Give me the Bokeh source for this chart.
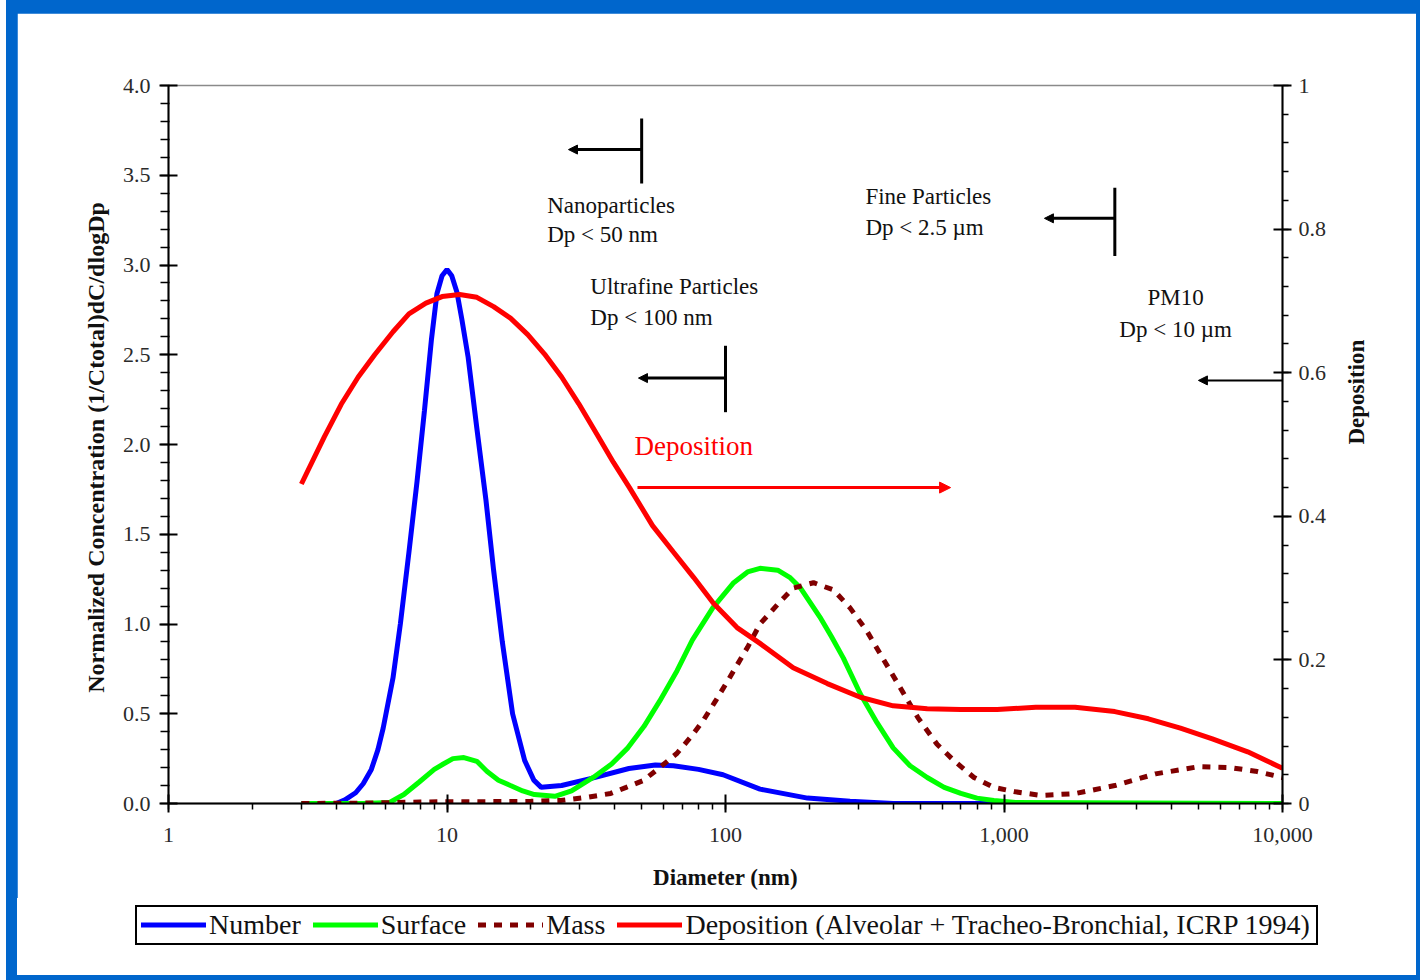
import math
from bokeh.plotting import figure
from bokeh.layouts import column
from bokeh.models import (Range1d, LinearAxis, SingleIntervalTicker, LogTicker, CustomJSTickFormatter,
                          Arrow, NormalHead, Div)
from bokeh.core.properties import value
from bokeh.embed import file_html
from bokeh.resources import INLINE

# ---------------- data ----------------
d_num = [3, 4, 4.3, 4.7, 5.0, 5.35, 5.65, 5.9, 6.4, 6.8, 7.3, 7.8, 8.3, 8.8, 9.2, 9.6, 10, 10.4, 10.85, 11.3,
         11.9, 12.8, 13.8, 14.7, 15.8, 17.2, 19.0, 20.5, 21.8, 25.8, 33, 45, 56, 65, 80, 98, 133, 197, 280, 400,
         10000]
number = [0, 0, 0.02, 0.06, 0.11, 0.19, 0.30, 0.42, 0.70, 1.0, 1.40, 1.79, 2.19, 2.59, 2.84, 2.94, 2.975, 2.94,
          2.85, 2.70, 2.49, 2.09, 1.69, 1.30, 0.90, 0.50, 0.24, 0.13, 0.09, 0.10, 0.14, 0.195, 0.215, 0.21, 0.19,
          0.16, 0.08, 0.03, 0.012, 0, 0]

d_surf = [3, 5, 6.2, 7.0, 7.95, 9.0, 9.7, 10.5, 11.5, 12.8, 13.9, 15.3, 16.9, 18.7, 20.6, 24.4, 28, 33.5, 39,
          44.6, 51, 58, 67, 76, 90, 107, 120, 133, 154, 170, 186, 218, 240, 265, 305, 350, 400, 460, 530, 610,
          700, 800, 920, 1100, 10000]
surface = [0, 0, 0.005, 0.05, 0.12, 0.19, 0.22, 0.25, 0.256, 0.235, 0.18, 0.13, 0.10, 0.07, 0.05, 0.04, 0.07,
           0.145, 0.22, 0.31, 0.43, 0.57, 0.74, 0.91, 1.09, 1.23, 1.29, 1.31, 1.30, 1.26, 1.20, 1.04, 0.93, 0.81,
           0.61, 0.45, 0.31, 0.21, 0.145, 0.09, 0.056, 0.03, 0.017, 0.005, 0]

d_mass = [3, 5, 8, 10, 13, 20, 25.6, 32, 38.7, 44, 50.7, 58, 67, 75, 83, 92, 102, 120, 133, 154, 175, 207, 244,
          280, 322, 370, 415, 490, 575, 660, 780, 920, 1100, 1360, 1800, 2500, 3500, 5000, 6500, 8000, 10000]
mass = [0, 0.002, 0.008, 0.01, 0.01, 0.012, 0.017, 0.035, 0.056, 0.09, 0.128, 0.2, 0.28, 0.37, 0.46, 0.57, 0.685,
        0.87, 1.0, 1.11, 1.20, 1.23, 1.19, 1.09, 0.96, 0.80, 0.67, 0.48, 0.33, 0.24, 0.145, 0.09, 0.065, 0.045,
        0.055, 0.10, 0.165, 0.205, 0.20, 0.18, 0.145]

d_dep = [3.0, 3.63, 4.17, 4.8, 5.5, 6.4, 7.3, 8.4, 9.6, 11.1, 12.8, 14.7, 16.9, 19.5, 22.4, 25.8, 29.7, 34.7,
         39.6, 45.2, 54.7, 65.1, 76.8, 90.5, 110, 133, 175, 232, 305, 400, 530, 700, 945, 1300, 1800, 2500, 3300,
         4300, 5600, 7500, 10000]
deposition = [0.445, 0.511, 0.556, 0.594, 0.625, 0.657, 0.682, 0.697, 0.706, 0.709, 0.705, 0.692, 0.676, 0.653,
              0.626, 0.594, 0.557, 0.513, 0.475, 0.44, 0.387, 0.35, 0.315, 0.279, 0.245, 0.223, 0.189, 0.167,
              0.148, 0.136, 0.132, 0.131, 0.131, 0.134, 0.134, 0.128, 0.118, 0.105, 0.09, 0.072, 0.049]

legend_labels = ["Number", "Surface", "Mass", "Deposition (Alveolar + Tracheo-Bronchial, ICRP 1994)"]

SERIF = "Liberation Serif"
COLORS = ["#0000FF", "#00FF00", "#800000", "#FF0000"]
DASHES = ["solid", "solid", "8 8", "solid"]

p = figure(frame_width=1114, frame_height=718, x_axis_type="log", x_range=Range1d(1, 10000),
           y_range=Range1d(0, 4), output_backend="svg", toolbar_location=None,
           min_border_left=151, min_border_right=134, min_border_top=72, min_border_bottom=95,
           margin=(13, 4, 0, 17))
p.extra_y_ranges = {"dep": Range1d(0, 1)}
p.grid.visible = False
p.background_fill_color = "white"
p.border_fill_color = "white"
p.outline_line_color = "#8a8a8a"
p.outline_line_width = 1.5

# x axis
xa = p.xaxis[0]
xa.ticker = LogTicker(num_minor_ticks=10)
xa.formatter = CustomJSTickFormatter(code="return Math.round(tick).toLocaleString('en-US');")
xa.axis_label = "Diameter (nm)"

# left axis
ya = p.yaxis[0]
ya.ticker = SingleIntervalTicker(interval=0.5, num_minor_ticks=5)
ya.formatter = CustomJSTickFormatter(code="return tick.toFixed(1);")
ya.axis_label = "Normalized Concentration  (1/Ctotal)dC/dlogDp"

# right axis
ra = LinearAxis(y_range_name="dep", axis_label="Deposition",
                ticker=SingleIntervalTicker(interval=0.2, num_minor_ticks=5),
                formatter=CustomJSTickFormatter(code="return String(Math.round(tick*10)/10);"))
p.add_layout(ra, "right")
try:
    ra.axis_label_orientation = math.pi / 2
except Exception:
    pass

for ax in (xa, ya, ra):
    ax.axis_line_color = "black"
    ax.axis_line_width = 2
    ax.major_tick_line_color = "black"
    ax.major_tick_line_width = 2
    ax.minor_tick_line_color = "black"
    ax.minor_tick_line_width = 1.5
    ax.major_tick_in = 9
    ax.major_tick_out = 9
    ax.minor_tick_in = 0
    ax.minor_tick_out = 6
    ax.major_label_text_font = SERIF
    ax.major_label_text_font_size = "22px"
    ax.major_label_text_color = "#2a2a2a"
    ax.axis_label_text_font = SERIF
    ax.axis_label_text_font_style = "bold"
    ax.axis_label_text_font_size = "23px"
    ax.axis_label_text_color = "#111111"
ya.minor_tick_out = 8
ya.minor_tick_in = 1
ya.axis_label_text_font_size = "24px"
xa.major_label_standoff = 15
xa.axis_label_standoff = 20
ya.major_label_standoff = 9
ya.axis_label_standoff = 11
ra.major_label_standoff = 7
ra.axis_label_standoff = 27

# curves
series = [(d_num, number), (d_surf, surface), (d_mass, mass), (d_dep, deposition)]
for i, (xs, ys) in enumerate(series):
    kw = dict(line_color=COLORS[i], line_width=5, line_dash=DASHES[i])
    if i == 3:
        kw["y_range_name"] = "dep"
    p.line(xs, ys, **kw)

# size-class markers (bars + arrows)
bar_x = [50, 100, 2500]
bar_y0 = [3.454, 2.18, 3.05]
bar_y1 = [3.816, 2.55, 3.43]
p.segment(x0=bar_x, y0=bar_y0, x1=bar_x, y1=bar_y1, line_color="black", line_width=3)

arrows = [(50, 27.3, 3.643, 3), (100, 48.7, 2.37, 3), (2500, 1397, 3.26, 3), (10000, 4990, 2.357, 2)]
for xs, xe, yy, lw in arrows:
    p.add_layout(Arrow(end=NormalHead(size=9, fill_color="black", line_color="black"),
                       x_start=xs, y_start=yy, x_end=xe, y_end=yy, line_color="black", line_width=lw))
p.add_layout(Arrow(end=NormalHead(size=11, fill_color="#FF0000", line_color="#FF0000"),
                   x_start=48.3, y_start=1.76, x_end=643, y_end=1.76, line_color="#FF0000", line_width=3))

# texts
left_txt = ["Nanoparticles", "Dp < 50 nm", "Ultrafine Particles", "Dp < 100 nm", "Fine Particles", "Dp < 2.5 µm"]
left_x = [22.9, 22.9, 32.7, 32.7, 318, 318]
left_y = [3.33, 3.17, 2.88, 2.71, 3.38, 3.21]
p.text(x=left_x, y=left_y, text=left_txt, text_font=value(SERIF), text_font_size="23px",
       text_align="left", text_baseline="middle", text_color="#111111")
p.text(x=[4130, 4130], y=[2.82, 2.64], text=["PM10", "Dp < 10 µm"], text_font=value(SERIF),
       text_font_size="23px", text_align="center", text_baseline="middle", text_color="#111111")
p.text(x=[47.1], y=[1.99], text=["Deposition"], text_font=value(SERIF), text_font_size="27px",
       text_align="left", text_baseline="middle", text_color="#FF0000")

# legend box (HTML strip under the chart)
items = []
for i, lab in enumerate(legend_labels):
    dash = ' stroke-dasharray="8 8"' if DASHES[i] != "solid" else ""
    items.append(
        '<span style="display:inline-flex;align-items:center;margin-right:%dpx;">'
        '<svg width="65" height="20" style="display:block"><line x1="0" y1="10" x2="65" y2="10" '
        'stroke="%s" stroke-width="5"%s/></svg>'
        '<span style="margin-left:3px;">%s</span></span>' % (12 if i < 3 else 0, COLORS[i], dash, lab))
legend_html = ('<div style="display:inline-flex;align-items:center;box-sizing:border-box;height:40px;'
               'margin-left:118px;margin-top:7px;padding:0 6px 0 4px;border:2px solid black;background:white;'
               'font-family:\'Liberation Serif\';font-size:28px;color:#111111;white-space:nowrap;line-height:1;">'
               + "".join(items) + '</div>')
leg = Div(text=legend_html, width=1399, height=77, margin=(0, 4, 5, 17),
          styles={"background-color": "white", "overflow": "visible"})

page = column(p, leg, styles={"background": "linear-gradient(to right, #ffffff 0px, #ffffff 6px, #0066CC 6px)"})

open("out.html", "w").write(file_html(page, INLINE))
